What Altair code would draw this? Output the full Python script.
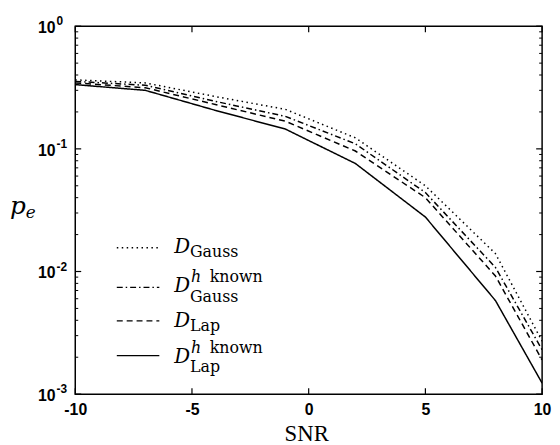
import altair as alt
import pandas as pd

# ---- data ----
snr = [-10, -7, -4, -1, 2, 5, 8, 10]
pe_gauss = [0.365, 0.345, 0.267, 0.21, 0.123, 0.050, 0.014, 0.0027]
pe_gauss_known = [0.355, 0.33, 0.244, 0.184, 0.110, 0.044, 0.0108, 0.0023]
pe_lap = [0.345, 0.315, 0.23, 0.168, 0.096, 0.040, 0.0092, 0.0019]
pe_lap_known = [0.334, 0.300, 0.206, 0.145, 0.076, 0.0278, 0.0058, 0.00123]

series_names = ["D_Gauss", "D_Gauss_known", "D_Lap", "D_Lap_known"]
series_values = [pe_gauss, pe_gauss_known, pe_lap, pe_lap_known]
dashes = [[1.5, 3.5], [6, 3, 1.5, 3], [6, 4], [1, 0]]

x_ticks = [-10, -5, 0, 5, 10]
y_ticks = [1.0, 0.1, 0.01, 0.001]
y_exps = ["0", "-1", "-2", "-3"]
y_minor = [m * d for d in [0.001, 0.01, 0.1] for m in range(2, 10)]

W, H = 472, 372
SERIF = "DejaVu Serif"
SANS = "Liberation Sans"

rows = []
for name, vals in zip(series_names, series_values):
    for xv, yv in zip(snr, vals):
        rows.append({"snr": xv, "pe": yv, "series": name})
df = pd.DataFrame(rows)

xscale = alt.Scale(domain=[-10, 10], nice=False, zero=False)
yscale = alt.Scale(type="log", domain=[0.001, 1], nice=False)

lines = alt.Chart(df).mark_line(color="black", strokeWidth=1.5, clip=True).encode(
    x=alt.X("snr:Q", scale=xscale,
            axis=alt.Axis(values=x_ticks, ticks=False, domain=False, grid=False,
                          labelFont=SANS, labelFontSize=16, labelFontWeight="bold",
                          labelColor="black", labelPadding=8, labelFlush=False,
                          labelExpr="'' + datum.value", title=None)),
    y=alt.Y("pe:Q", scale=yscale, axis=None),
    strokeDash=alt.StrokeDash("series:N", scale=alt.Scale(domain=series_names, range=dashes),
                              legend=None),
    detail="series:N",
)

xt = pd.DataFrame({"v": x_ticks})
yt = pd.DataFrame({"v": y_ticks, "e": y_exps})
ym = pd.DataFrame({"v": y_minor})

tick_bottom = alt.Chart(xt).mark_rule(color="black", strokeWidth=1.2).encode(
    x=alt.X("v:Q", scale=xscale), y=alt.value(H), y2=alt.value(H - 6))
tick_top = alt.Chart(xt).mark_rule(color="black", strokeWidth=1.2).encode(
    x=alt.X("v:Q", scale=xscale), y=alt.value(0), y2=alt.value(6))
tick_left = alt.Chart(yt).mark_rule(color="black", strokeWidth=1.2).encode(
    y=alt.Y("v:Q", scale=yscale), x=alt.value(0), x2=alt.value(6))
tick_right = alt.Chart(yt).mark_rule(color="black", strokeWidth=1.2).encode(
    y=alt.Y("v:Q", scale=yscale), x=alt.value(W), x2=alt.value(W - 6))
minor_left = alt.Chart(ym).mark_rule(color="black", strokeWidth=1).encode(
    y=alt.Y("v:Q", scale=yscale), x=alt.value(0), x2=alt.value(3))
minor_right = alt.Chart(ym).mark_rule(color="black", strokeWidth=1).encode(
    y=alt.Y("v:Q", scale=yscale), x=alt.value(W), x2=alt.value(W - 3))

ylab_base = alt.Chart(yt).mark_text(font=SANS, fontSize=16, fontWeight="bold", color="black",
                                    align="right", baseline="alphabetic", dy=7).encode(
    y=alt.Y("v:Q", scale=yscale), x=alt.value(-20), text=alt.value("10"))
ylab_exp = alt.Chart(yt).mark_text(font=SANS, fontSize=12, fontWeight="bold", color="black",
                                   align="left", baseline="alphabetic", dy=-1).encode(
    y=alt.Y("v:Q", scale=yscale), x=alt.value(-19), text="e:N")


def txt(s, x, y, size, style="normal", font=SERIF, align="left"):
    return alt.Chart(pd.DataFrame({"t": [s]})).mark_text(
        font=font, fontSize=size, fontStyle=style, color="black",
        align=align, baseline="alphabetic").encode(
        x=alt.value(x), y=alt.value(y), text="t:N")


def sample(dash, y):
    return alt.Chart(pd.DataFrame({"t": [0]})).mark_rule(
        color="black", strokeWidth=1.3, strokeDash=dash).encode(
        x=alt.value(42), x2=alt.value(85), y=alt.value(y))


texts = [
    txt("p", -66, 190, 25, "italic"),
    txt("e", -50, 194, 17, "italic"),
    txt("SNR", 234, 419, 23, "normal", "Liberation Serif", "center"),
    # legend entry 1
    txt("D", 100, 229, 20, "italic"),
    txt("Gauss", 116, 233, 16),
    # entry 2
    txt("D", 100, 269, 20, "italic"),
    txt("h", 117, 259, 16, "italic"),
    txt("known", 136, 259, 16),
    txt("Gauss", 116, 279, 16),
    # entry 3
    txt("D", 100, 304, 20, "italic"),
    txt("Lap", 116, 308, 16),
    # entry 4
    txt("D", 100, 341, 20, "italic"),
    txt("h", 117, 330, 16, "italic"),
    txt("known", 136, 330, 16),
    txt("Lap", 116, 350, 16),
]

samples = [sample(dashes[0], 224), sample(dashes[1], 264),
           sample(dashes[2], 298), sample(dashes[3], 333)]

chart = alt.layer(
    lines, tick_bottom, tick_top, tick_left, tick_right, minor_left, minor_right,
    ylab_base, ylab_exp, *samples, *texts
).properties(
    width=W, height=H,
    autosize=alt.AutoSizeParams(type="none"),
    padding={"left": 68, "top": 16, "right": 10, "bottom": 49},
).configure_view(stroke="black", strokeWidth=1.5)

chart.save("out.html", embed_options={"renderer": "svg", "actions": False})
